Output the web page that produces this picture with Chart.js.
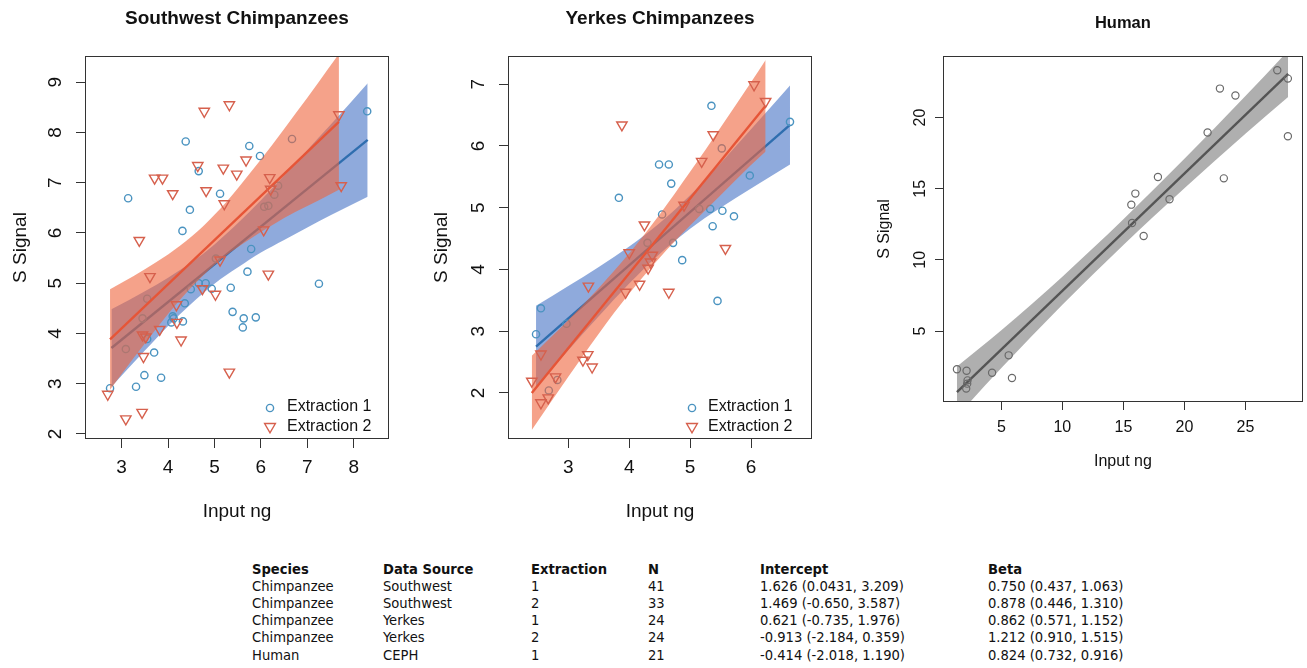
<!DOCTYPE html>
<html>
<head>
<meta charset="utf-8">
<script src="https://cdn.jsdelivr.net/npm/chart.js@4.4.1/dist/chart.umd.min.js"></script>
<style>
  html, body { margin:0; padding:0; background:#ffffff; }
  body { width:1307px; height:668px; position:relative; overflow:hidden; font-family:"Liberation Sans", Arial, sans-serif; }
  .pane { position:absolute; }
  .pane canvas { display:block; }
  .leg { position:absolute; font-size:16px; line-height:20px; color:#111; white-space:nowrap; }
  .legm { position:absolute; }
  .cell { position:absolute; font-family:"DejaVu Sans Condensed", "DejaVu Sans", sans-serif; font-stretch:condensed; font-size:14.6px; line-height:17px; color:#111; white-space:nowrap; }
  .hdr { font-weight:bold; }
</style>
</head>
<body>
<div class="pane" style="left:0px;top:0px;"><canvas id="c1" width="420" height="540"></canvas></div>
<div class="pane" style="left:420px;top:0px;"><canvas id="c2" width="400" height="540"></canvas></div>
<div class="pane" style="left:860px;top:0px;"><canvas id="c3" width="447" height="500"></canvas></div>
<div id="extras"></div>
<script>
// ---------------- Southwest Chimpanzees ----------------
const swE1X = [2.75,3.31,3.49,3.85,3.70,3.14,4.38,4.66,4.47,4.31,5.12,5.75,5.98,5.79,5.71,4.81,4.66,4.49,4.94,5.35,4.36,4.10,4.07,4.32,5.39,5.63,5.61,5.89,7.25,8.29,6.67,6.07,6.16,6.37,6.29,5.03,3.55,3.45,3.09,3.55,4.12];
const swE1Y = [2.91,2.94,3.17,3.12,3.62,6.69,7.82,7.23,6.46,6.04,6.78,7.73,7.53,5.68,5.23,5.00,5.00,4.88,4.89,4.91,4.60,4.34,4.22,4.24,4.43,4.30,4.12,4.32,4.99,8.42,7.87,6.52,6.54,6.94,6.76,5.49,4.69,4.30,3.69,3.89,4.30];
const swE2X = [2.70,3.09,3.44,3.47,3.45,3.38,3.61,3.71,3.88,4.10,3.82,4.18,4.19,4.28,4.78,5.32,4.64,5.19,5.48,5.68,4.82,5.21,4.74,5.02,5.12,5.32,6.16,6.06,6.19,6.21,7.68,7.73,3.52];
const swE2Y = [2.79,2.30,2.43,3.54,3.97,5.85,5.13,7.09,7.09,6.78,4.08,4.57,4.22,3.87,8.42,8.55,7.34,7.29,7.17,7.45,6.84,6.58,4.89,4.78,5.46,3.23,5.18,6.06,7.10,6.87,8.35,6.94,3.93];
const swFit1X = [2.78, 8.30], swFit1Y = [3.71, 7.85];
const swFit2X = [2.75, 7.68], swFit2Y = [3.88, 8.21];
const swBand1X  = [2.78,3.5,4.0,4.5,5.0,5.5,6.0,6.5,7.0,7.5,8.3];
const swBand1Lo = [2.94,3.66,4.15,4.59,4.99,5.31,5.61,5.86,6.11,6.35,6.72];
const swBand1Hi = [4.48,4.84,5.11,5.41,5.77,6.19,6.65,7.14,7.65,8.15,8.98];
const swBand2X  = [2.75,3.25,3.75,4.25,4.75,5.25,5.75,6.25,6.75,7.25,7.68];
const swBand2Lo = [2.88,3.50,4.10,4.66,5.15,5.55,5.87,6.16,6.42,6.65,6.86];
const swBand2Hi = [4.88,5.14,5.42,5.74,6.13,6.61,7.17,7.76,8.38,9.01,9.56];
const swXTicks = [3,4,5,6,7,8];
const swYTicks = [2,3,4,5,6,7,8,9];

// ---------------- Yerkes Chimpanzees ----------------
const ykE1X = [2.47,2.55,2.97,2.68,2.82,3.83,4.49,4.65,4.69,4.54,4.30,4.72,4.87,5.35,5.52,5.33,5.53,5.72,5.37,5.45,5.98,6.64,5.15];
const ykE1Y = [2.95,3.37,3.12,2.04,2.21,5.16,5.70,5.70,5.39,4.89,4.43,4.43,4.15,6.65,5.96,4.98,4.95,4.86,4.70,3.49,5.52,6.39,4.98];
const ykE2X = [2.40,2.55,2.55,2.67,2.79,3.24,3.32,3.39,3.33,3.88,3.94,4.00,4.17,4.25,4.31,4.38,4.35,4.65,4.90,5.19,5.38,5.58,6.05,6.24];
const ykE2Y = [2.19,2.63,1.84,1.92,2.26,2.53,2.62,2.42,3.73,6.34,3.63,4.27,3.76,4.72,4.02,4.23,4.12,3.63,5.04,5.75,6.18,4.34,6.99,6.72];
const ykFit1X = [2.47, 6.64], ykFit1Y = [2.75, 6.34];
const ykFit2X = [2.40, 6.24], ykFit2Y = [2.00, 6.65];
const ykBand1X  = [2.47,3.0,3.5,4.0,4.5,5.0,5.5,6.0,6.64];
const ykBand1Lo = [2.09,2.69,3.24,3.77,4.25,4.66,5.00,5.31,5.70];
const ykBand1Hi = [3.41,3.73,4.04,4.37,4.75,5.20,5.72,6.27,6.98];
const ykBand2X  = [2.40,3.0,3.5,4.0,4.5,5.0,5.5,6.0,6.24];
const ykBand2Lo = [1.40,2.26,2.96,3.61,4.19,4.71,5.20,5.69,5.91];
const ykBand2Hi = [2.60,3.18,3.70,4.26,4.89,5.58,6.30,7.03,7.39];
const ykXTicks = [3,4,5,6];
const ykYTicks = [2,3,4,5,6,7];

// ---------------- Human ----------------
const huX = [1.36,2.15,2.23,2.12,2.20,4.24,5.60,5.87,15.65,15.98,15.71,16.66,17.83,18.78,21.90,22.91,24.18,23.23,27.61,28.48,28.48];
const huY = [2.31,2.21,1.53,0.95,1.30,2.07,3.29,1.70,13.88,14.66,12.59,11.68,15.83,14.26,18.95,22.04,21.55,15.73,23.33,22.74,18.69];
const huFitX = [1.36, 28.5], huFitY = [0.71, 23.07];
const huBandX  = [1.36,5,10,15,20,25,28.5];
const huBandLo = [-1.0,2.40,6.84,11.05,15.04,18.87,21.45];
const huBandHi = [2.50,5.05,8.82,12.85,17.10,21.51,24.70];
const huXTicks = [5,10,15,20,25];
const huYTicks = [5,10,15,20];

// ---------------- Labels & table ----------------
const panelTitles = ['Southwest Chimpanzees', 'Yerkes Chimpanzees', 'Human'];
const xAxisLabel = 'Input ng';
const yAxisLabel = 'S Signal';
const legendLabels = ['Extraction 1', 'Extraction 2'];
const tblHeader     = ['Species','Data Source','Extraction','N','Intercept','Beta'];
const tblSpecies    = ['Chimpanzee','Chimpanzee','Chimpanzee','Chimpanzee','Human'];
const tblSource     = ['Southwest','Southwest','Yerkes','Yerkes','CEPH'];
const tblExtraction = ['1','2','1','2','1'];
const tblN          = ['41','33','24','24','21'];
const tblIntercept  = ['1.626 (0.0431, 3.209)','1.469 (-0.650, 3.587)','0.621 (-0.735, 1.976)','-0.913 (-2.184, 0.359)','-0.414 (-2.018, 1.190)'];
const tblBeta       = ['0.750 (0.437, 1.063)','0.878 (0.446, 1.310)','0.862 (0.571, 1.152)','1.212 (0.910, 1.515)','0.824 (0.732, 0.916)'];

// ---------------- styling ----------------
const FAM = '"Liberation Sans", Arial, sans-serif';
const C_BLUE_PT = '#4a93c0', C_RED_PT = '#d6604d';
const C_BLUE_LN = '#2f6eaf', C_RED_LN = '#e65537';
const C_BLUE_BAND = 'rgba(68,114,196,0.6)', C_RED_BAND = 'rgba(239,100,60,0.6)';
const C_GRAY_PT = '#6a6a6a', C_GRAY_LN = '#555555', C_GRAY_BAND = 'rgba(110,110,110,0.55)';

Chart.defaults.font.family = FAM;

function pts(xs, ys) { return xs.map((x, i) => ({x: x, y: ys[i]})); }
function bandSets(xs, lo, hi, color) {
  return [
    {type:'line', data:pts(xs, hi), borderColor:'rgba(0,0,0,0)', borderWidth:1, pointRadius:0, fill:'+1', backgroundColor:color, cubicInterpolationMode:'monotone'},
    {type:'line', data:pts(xs, lo), borderColor:'rgba(0,0,0,0)', borderWidth:1, pointRadius:0, fill:false, cubicInterpolationMode:'monotone'}
  ];
}
function lineSet(xs, ys, color, w) {
  return {type:'line', data:pts(xs, ys), borderColor:color, borderWidth:w, pointRadius:0, fill:false, tension:0};
}
function circleSet(xs, ys, color, r, bw) {
  return {type:'scatter', data:pts(xs, ys), pointStyle:'circle', pointRadius:r, pointBorderWidth:bw,
          pointBorderColor:color, pointBackgroundColor:'rgba(0,0,0,0)', borderColor:color, backgroundColor:'rgba(0,0,0,0)'};
}
function triSet(xs, ys, color, r, bw) {
  return {type:'scatter', data:pts(xs, ys), pointStyle:'triangle', pointRotation:180, pointRadius:r, pointBorderWidth:bw,
          pointBorderColor:color, pointBackgroundColor:'rgba(0,0,0,0)', borderColor:color, backgroundColor:'rgba(0,0,0,0)'};
}

const boxPlugin = {
  id:'rbox',
  afterDraw(chart) {
    const a = chart.chartArea, ctx = chart.ctx;
    ctx.save();
    ctx.strokeStyle = '#333';
    ctx.lineWidth = 1;
    ctx.strokeRect(Math.round(a.left) - 0.5, Math.round(a.top) - 0.5, Math.round(a.right - a.left) + 1, Math.round(a.bottom - a.top) + 1);
    ctx.restore();
  }
};

function makeChart(id, datasets, g) {
  return new Chart(document.getElementById(id), {
    type:'scatter',
    data:{datasets:datasets},
    options:{
      responsive:false, animation:false, events:[],
      layout:{padding:{left:0, right:g.padRight, top:0, bottom:0}},
      plugins:{
        legend:{display:false},
        tooltip:{enabled:false},
        title:{display:true, text:g.title, fullSize:false, color:'#111',
               font:{family:FAM, size:g.titleSize, weight:'bold'},
               padding:{top:g.titleTop, bottom:g.titleBottom}}
      },
      scales:{
        x:{
          type:'linear', min:g.xMin, max:g.xMax,
          afterBuildTicks:(ax) => { ax.ticks = g.xTicks.map(v => ({value:v})); },
          afterFit:(ax) => { ax.height = g.xH; },
          border:{display:false},
          grid:{display:true, drawOnChartArea:false, drawTicks:true, tickLength:g.tl, tickColor:'#333', tickWidth:1},
          ticks:{autoSkip:false, minRotation:0, maxRotation:0, padding:g.xTickPad, color:'#111',
                 font:{family:FAM, size:g.fs}, callback:(v) => String(v)},
          title:{display:true, text:xAxisLabel, color:'#111', font:{family:FAM, size:g.fs},
                 padding:{top:0, bottom:g.xTitlePad}}
        },
        y:{
          type:'linear', min:g.yMin, max:g.yMax,
          afterBuildTicks:(ax) => { ax.ticks = g.yTicks.map(v => ({value:v})); },
          afterFit:(ax) => { ax.width = g.yW; },
          border:{display:false},
          grid:{display:true, drawOnChartArea:false, drawTicks:true, tickLength:g.tl, tickColor:'#333', tickWidth:1},
          ticks:{autoSkip:false, minRotation:90, maxRotation:90, crossAlign:'center', padding:g.yTickPad, color:'#111',
                 font:{family:FAM, size:g.fs}, callback:(v) => String(v)},
          title:{display:true, text:yAxisLabel, color:'#111', font:{family:FAM, size:g.fs},
                 padding:{top:g.yTitlePad, bottom:0}}
        }
      }
    },
    plugins:[boxPlugin]
  });
}

// Panel 1
makeChart('c1', [
  triSet(swE2X, swE2Y, C_RED_PT, 6, 1.4),
  lineSet(swFit2X, swFit2Y, C_RED_LN, 2.4),
  ...bandSets(swBand2X, swBand2Lo, swBand2Hi, C_RED_BAND),
  circleSet(swE1X, swE1Y, C_BLUE_PT, 3.6, 1.4),
  lineSet(swFit1X, swFit1Y, C_BLUE_LN, 2.4),
  ...bandSets(swBand1X, swBand1Lo, swBand1Hi, C_BLUE_BAND)
], {title:panelTitles[0], titleSize:19, titleTop:7, titleBottom:27.2, padRight:32,
    xMin:2.232, xMax:8.738, yMin:1.92, yMax:9.50, xTicks:swXTicks, yTicks:swYTicks,
    xH:102, yW:86, tl:10, fs:19, xTickPad:8.5, yTickPad:14.8, xTitlePad:16.6, yTitlePad:9.3});

// Panel 2
makeChart('c2', [
  triSet(ykE2X, ykE2Y, C_RED_PT, 6, 1.4),
  lineSet(ykFit2X, ykFit2Y, C_RED_LN, 2.4),
  ...bandSets(ykBand2X, ykBand2Lo, ykBand2Hi, C_RED_BAND),
  circleSet(ykE1X, ykE1Y, C_BLUE_PT, 3.6, 1.4),
  lineSet(ykFit1X, ykFit1Y, C_BLUE_LN, 2.4),
  ...bandSets(ykBand1X, ykBand1Lo, ykBand1Hi, C_BLUE_BAND)
], {title:panelTitles[1], titleSize:19, titleTop:7, titleBottom:27.2, padRight:9,
    xMin:2.026, xMax:6.985, yMin:1.27, yMax:7.44, xTicks:ykXTicks, yTicks:ykYTicks,
    xH:102, yW:89, tl:10, fs:19, xTickPad:8.5, yTickPad:14.8, xTitlePad:16.6, yTitlePad:10.3});

// Panel 3
makeChart('c3', [
  circleSet(huX, huY, C_GRAY_PT, 3.6, 1.2),
  lineSet(huFitX, huFitY, C_GRAY_LN, 2.4),
  ...bandSets(huBandX, huBandLo, huBandHi, C_GRAY_BAND)
], {title:panelTitles[2], titleSize:16.5, titleTop:13.9, titleBottom:23.3, padRight:3,
    xMin:0.30, xMax:29.62, yMin:0.08, yMax:24.26, xTicks:huXTicks, yTicks:huYTicks,
    xH:99, yW:84, tl:9, fs:16, xTickPad:8.2, yTickPad:5.1, xTitlePad:28.4, yTitlePad:15.4});

// ---------------- legends (HTML) ----------------
const extras = document.getElementById('extras');
function svgCircle(color) {
  return '<svg width="12" height="12"><circle cx="6" cy="6" r="3.6" fill="none" stroke="' + color + '" stroke-width="1.4"/></svg>';
}
function svgTri(color) {
  return '<svg width="14" height="12"><polygon points="1.6,1.5 12.4,1.5 7,10.8" fill="none" stroke="' + color + '" stroke-width="1.4"/></svg>';
}
function addLegend(markerX, textX, rowYs) {
  const marks = [svgCircle(C_BLUE_PT), svgTri(C_RED_PT)];
  legendLabels.forEach((lab, i) => {
    const m = document.createElement('div');
    m.className = 'legm';
    m.style.left = (markerX - (i === 0 ? 6 : 7)) + 'px';
    m.style.top = (rowYs[i] - 6) + 'px';
    m.innerHTML = marks[i];
    extras.appendChild(m);
    const t = document.createElement('div');
    t.className = 'leg';
    t.style.left = textX + 'px';
    t.style.top = (rowYs[i] - 9.8) + 'px';
    t.textContent = lab;
    extras.appendChild(t);
  });
}
addLegend(270, 287, [406, 426]);
addLegend(692, 708, [406, 426]);

// ---------------- table (HTML) ----------------
const colX = [252, 383, 531, 648, 760, 988];
const rowY = [569, 586, 603, 620, 637, 655];
function addCell(text, x, y, bold) {
  const d = document.createElement('div');
  d.className = 'cell' + (bold ? ' hdr' : '');
  d.style.left = x + 'px';
  d.style.top = (y - 8.7) + 'px';
  d.textContent = text;
  extras.appendChild(d);
}
tblHeader.forEach((h, j) => addCell(h, colX[j], rowY[0], true));
const cols = [tblSpecies, tblSource, tblExtraction, tblN, tblIntercept, tblBeta];
for (let i = 0; i < tblSpecies.length; i++) {
  cols.forEach((col, j) => addCell(col[i], colX[j], rowY[i + 1], false));
}
</script>
</body>
</html>
